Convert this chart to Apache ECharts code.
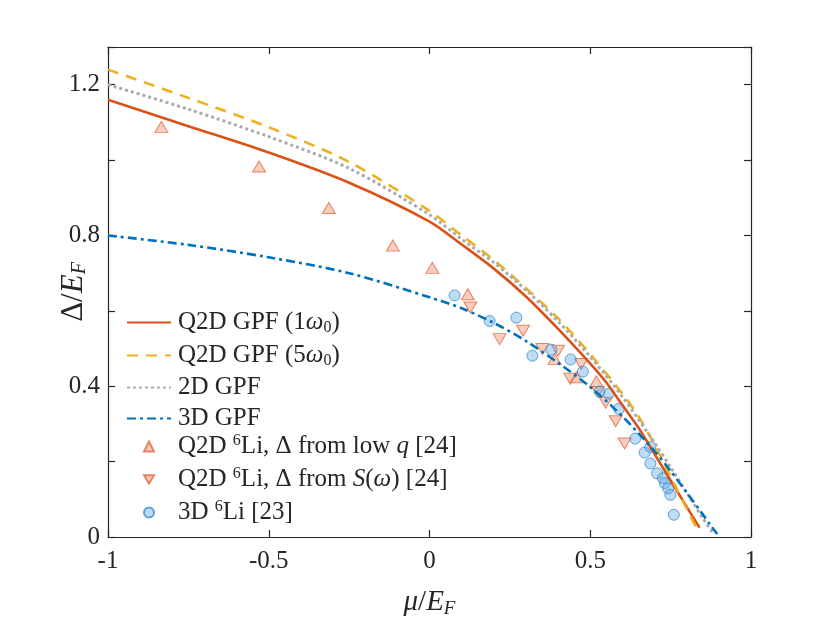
<!DOCTYPE html>
<html>
<head>
<meta charset="utf-8">
<title>Gap vs chemical potential</title>
<script src="https://cdn.jsdelivr.net/npm/echarts@6/dist/echarts.min.js"></script>
<style>
    html, body { margin: 0; padding: 0; background: #fff; }
    #chart { width: 830px; height: 623px; }
</style>
</head>
<body>
<div id="chart"></div>
<script>
// Theory curves (mu/E_F, Delta/E_F)
var q2d1X = [-1, -0.75, -0.5, -0.25, 0, 0.1, 0.2, 0.3, 0.4, 0.5, 0.55, 0.6, 0.65, 0.7, 0.75, 0.8, 0.84];
var q2d1Y = [1.16, 1.09, 1.02, 0.94, 0.837, 0.776, 0.712, 0.638, 0.552, 0.46, 0.41, 0.35, 0.29, 0.22, 0.15, 0.08, 0.025];

var q2d5X = [-1, -0.75, -0.5, -0.25, 0, 0.1, 0.2, 0.3, 0.4, 0.5, 0.6, 0.65, 0.7, 0.75, 0.8, 0.83];
var q2d5Y = [1.24, 1.165, 1.087, 0.995, 0.865, 0.8, 0.735, 0.66, 0.58, 0.485, 0.38, 0.32, 0.245, 0.16, 0.075, 0.025];

var gpf2dX = [-1, -0.75, -0.5, -0.25, 0, 0.1, 0.2, 0.3, 0.4, 0.5, 0.6, 0.7, 0.75, 0.8, 0.85, 0.88];
var gpf2dY = [1.2, 1.135, 1.062, 0.978, 0.855, 0.79, 0.728, 0.655, 0.572, 0.478, 0.372, 0.25, 0.185, 0.118, 0.05, 0.012];

var gpf3dX = [-1, -0.75, -0.5, -0.25, 0, 0.1, 0.2, 0.3, 0.4, 0.5, 0.6, 0.7, 0.75, 0.8, 0.85, 0.875, 0.895];
var gpf3dY = [0.8, 0.775, 0.742, 0.7, 0.636, 0.607, 0.568, 0.52, 0.462, 0.398, 0.32, 0.228, 0.175, 0.118, 0.06, 0.03, 0.008];

// Experimental points
var lowQX = [-0.834, -0.53, -0.313, -0.114, 0.009, 0.119, 0.389, 0.457, 0.519];
var lowQY = [1.088, 0.983, 0.873, 0.773, 0.714, 0.644, 0.472, 0.424, 0.413];

var swX = [0.127, 0.218, 0.291, 0.351, 0.4, 0.438, 0.472, 0.524, 0.548, 0.579, 0.607];
var swY = [0.609, 0.525, 0.547, 0.499, 0.494, 0.42, 0.459, 0.385, 0.356, 0.307, 0.248];

var li3dX = [0.078, 0.187, 0.27, 0.32, 0.379, 0.439, 0.477, 0.529, 0.558, 0.589, 0.64, 0.669, 0.687, 0.687, 0.708, 0.726, 0.732, 0.742, 0.749, 0.76];
var li3dY = [0.641, 0.573, 0.582, 0.481, 0.497, 0.471, 0.439, 0.386, 0.38, 0.34, 0.261, 0.224, 0.239, 0.195, 0.169, 0.156, 0.143, 0.129, 0.112, 0.059];

var xTicks = [-1, -0.5, 0, 0.5, 1];
var yTicks = [0, 0.4, 0.8, 1.2];

var lineNames = [
    'Q2D GPF (1ω0)',
    'Q2D GPF (5ω0)',
    '2D GPF',
    '3D GPF'
];
var pointNames = [
    'Q2D 6Li, Δ from low q [24]',
    'Q2D 6Li, Δ from S(ω) [24]',
    '3D 6Li [23]'
];

// legend labels with sub/superscripts
var legendRich = {};
legendRich[lineNames[0]] = '{t|Q2D GPF (1}{m|ω}{b|0}{t|)}';
legendRich[lineNames[1]] = '{t|Q2D GPF (5}{m|ω}{b|0}{t|)}';
legendRich[lineNames[2]] = '{t|2D GPF}';
legendRich[lineNames[3]] = '{t|3D GPF}';
legendRich[pointNames[0]] = '{t|Q2D }{p|6}{t|Li, Δ from low }{m|q}{t| [24]}';
legendRich[pointNames[1]] = '{t|Q2D }{p|6}{t|Li, Δ from }{m|S}{t|(}{m|ω}{t|) [24]}';
legendRich[pointNames[2]] = '{t|3D }{p|6}{t|Li [23]}';

var SERIF = '"Liberation Serif", "Times New Roman", serif';
var INK = '#262626';
var DOWN_TRI = 'path://M0,0 L12,0 L6,10 Z';

function zip(xs, ys) {
    return xs.map(function(x, i) { return [x, ys[i]]; });
}

function lineSeries(name, xs, ys, color, width, type) {
    return {
        name: name,
        type: 'line',
        data: zip(xs, ys),
        smooth: 0.3,
        symbol: 'none',
        lineStyle: { color: color, width: width, type: type, cap: 'butt' },
        itemStyle: { color: color }
    };
}

function inTicks(vals, v) {
    for (var i = 0; i < vals.length; i++) {
        if (Math.abs(vals[i] - v) < 1e-6) return true;
    }
    return false;
}

var legendText = function(padLeft) {
    return {
        padding: [0, 0, 0, padLeft],
        rich: {
            t: { fontFamily: SERIF, fontSize: 25, color: INK, lineHeight: 25 },
            m: { fontFamily: SERIF, fontSize: 25, fontStyle: 'italic', color: INK, lineHeight: 25 },
            b: { fontFamily: SERIF, fontSize: 16, color: INK, lineHeight: 16, padding: [11, 0, 0, 0] },
            p: { fontFamily: SERIF, fontSize: 16, color: INK, lineHeight: 16, padding: [0, 0, 11, 0] }
        }
    };
};

var chart = echarts.init(document.getElementById('chart'), null, { renderer: 'canvas' });

var frameAxis = {
    axisLine: { show: true, onZero: false, lineStyle: { color: INK, width: 1.2 } },
    axisTick: { show: true, inside: true, length: 7, lineStyle: { color: INK, width: 1.2 } },
    splitLine: { show: false }
};

var option = {
    backgroundColor: '#fff',
    animation: false,
    grid: { left: 108, right: 79, top: 47, bottom: 84 },
    xAxis: [
        Object.assign({
            type: 'value', position: 'bottom', min: -1, max: 1, interval: 0.5,
            axisLabel: {
                margin: 12, color: INK, fontFamily: SERIF, fontSize: 25,
                formatter: function(v) { return inTicks(xTicks, v) ? String(v) : ''; }
            },
            name: '{m|μ}{t|/}{m|E}{b|F}',
            nameLocation: 'middle',
            nameGap: 50,
            nameTextStyle: {
                rich: {
                    t: { fontFamily: SERIF, fontSize: 29, color: INK },
                    m: { fontFamily: SERIF, fontSize: 29, fontStyle: 'italic', color: INK },
                    b: { fontFamily: SERIF, fontSize: 19, fontStyle: 'italic', color: INK, padding: [12, 0, 0, 0] }
                }
            }
        }, frameAxis),
        Object.assign({
            type: 'value', position: 'top', min: -1, max: 1, interval: 0.5,
            axisLabel: { show: false }
        }, frameAxis)
    ],
    yAxis: [
        Object.assign({
            type: 'value', position: 'left', min: 0, max: 1.3, interval: 0.2,
            axisLabel: {
                margin: 8, color: INK, fontFamily: SERIF, fontSize: 25,
                formatter: function(v) { return inTicks(yTicks, v) ? String(Math.round(v * 10) / 10) : ''; }
            },
            name: '{t|Δ/}{m|E}{b|F}',
            nameLocation: 'middle',
            nameRotate: 90,
            nameGap: 18,
            nameMoveOverlap: false,
            nameTextStyle: {
                rich: {
                    t: { fontFamily: SERIF, fontSize: 31, color: INK },
                    m: { fontFamily: SERIF, fontSize: 31, fontStyle: 'italic', color: INK },
                    b: { fontFamily: SERIF, fontSize: 20, fontStyle: 'italic', color: INK, padding: [13, 0, 0, 0] }
                }
            }
        }, frameAxis),
        Object.assign({
            type: 'value', position: 'right', min: 0, max: 1.3, interval: 0.2,
            axisLabel: { show: false }
        }, frameAxis)
    ],
    legend: [
        {
            orient: 'vertical',
            left: 126,
            top: 309,
            itemWidth: 44,
            itemHeight: 12,
            itemGap: 6,
            padding: 0,
            data: lineNames.map(function(n) { return { name: n, itemStyle: { opacity: 0 } }; }),
            formatter: function(name) { return legendRich[name]; },
            textStyle: legendText(2)
        },
        {
            orient: 'vertical',
            left: 143,
            top: 433,
            itemWidth: 10,
            itemHeight: 10,
            itemGap: 6,
            padding: 0,
            data: [
                { name: pointNames[0], icon: 'triangle' },
                { name: pointNames[1], icon: DOWN_TRI },
                { name: pointNames[2], icon: 'circle' }
            ],
            formatter: function(name) { return legendRich[name]; },
            textStyle: legendText(19)
        }
    ],
    series: [
        lineSeries(lineNames[0], q2d1X, q2d1Y, '#D95319', 2.6, 'solid'),
        lineSeries(lineNames[1], q2d5X, q2d5Y, '#EDB120', 2.6, [11, 8]),
        lineSeries(lineNames[2], gpf2dX, gpf2dY, '#ababab', 3, [3, 3]),
        lineSeries(lineNames[3], gpf3dX, gpf3dY, '#0072BD', 2.6, [9, 4, 3, 4]),
        {
            name: pointNames[0],
            type: 'scatter',
            data: zip(lowQX, lowQY),
            symbol: 'triangle',
            symbolSize: [13, 11],
            itemStyle: { color: 'rgba(236, 130, 95, 0.5)', borderColor: '#e46a3e', borderWidth: 1 }
        },
        {
            name: pointNames[1],
            type: 'scatter',
            data: zip(swX, swY),
            symbol: 'triangle',
            symbolRotate: 180,
            symbolSize: [13, 11],
            itemStyle: { color: 'rgba(236, 130, 95, 0.5)', borderColor: '#e46a3e', borderWidth: 1 }
        },
        {
            name: pointNames[2],
            type: 'scatter',
            data: zip(li3dX, li3dY),
            symbol: 'circle',
            symbolSize: 11,
            itemStyle: { color: 'rgba(90, 165, 225, 0.5)', borderColor: '#3a8fd2', borderWidth: 1 }
        }
    ]
};

chart.setOption(option);

window.addEventListener('resize', function() {
    chart.resize();
});
</script>
</body>
</html>
